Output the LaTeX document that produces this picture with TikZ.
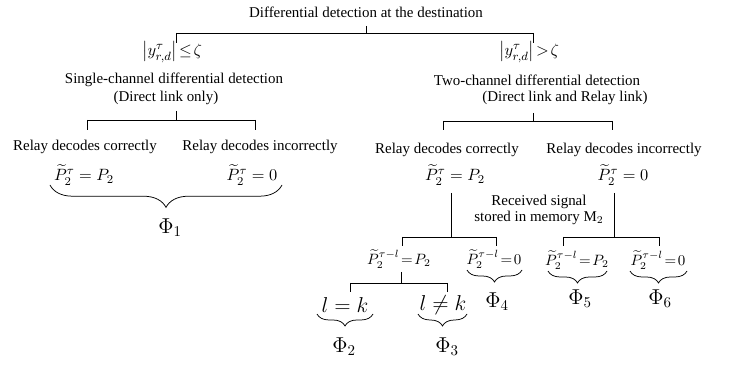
\documentclass[tikz,border=0pt]{standalone}
\usepackage{amsmath, amssymb}
\usepackage{fontspec}
\setmainfont{Liberation Serif}
\usepackage{tikz}
\usetikzlibrary{positioning, decorations.pathreplacing}

\begin{document}
\begin{tikzpicture}[x=0.02352cm, y=-0.02352cm, line width=0.5pt,
          txt/.style={inner sep=1pt, font=\fontsize{10}{11}\selectfont},
          eqn/.style={inner sep=1pt, font=\fontsize{11}{12}\selectfont},
          eqs/.style={inner sep=0.5pt, font=\fontsize{10}{11}\selectfont},
          phi/.style={inner sep=1pt, font=\fontsize{14}{15}\selectfont},
          bigbrace/.style={decorate, decoration={brace, mirror, amplitude=15pt}},
          smallbrace/.style={decorate, decoration={brace, mirror, amplitude=8pt}}
        ]
        \useasboundingbox (0,0) rectangle (733,367);
        \node[txt] (top) at (366,12) {Differential detection at the destination};
        \coordinate (t0) at (366,26);
        \coordinate (tj) at (366,33);
        \coordinate (tl) at (176,33);
        \coordinate (tr) at (533,33);
        \coordinate (tld) at (176,43);
        \coordinate (trd) at (533,43);

        % left branch: single channel
        \node[eqn] (lcond) at (172,52) {$\bigl|y^{\tau}_{r,d}\bigr|\!\leq\!\zeta$};
        \node[txt] (ltit)  at (174,80) {Single-channel differential detection};
        \node[txt] (lsub)  at (166,98) {(Direct link only)};
        \coordinate (ls)  at (176,111);
        \coordinate (lj)  at (176,120);
        \coordinate (ljl) at (87,120);
        \coordinate (ljr) at (255,120);
        \coordinate (ldl) at (87,130);
        \coordinate (ldr) at (255,130);
        \node[txt] (lok)  at (85,147)  {Relay decodes correctly};
        \node[txt] (lbad) at (260,147) {Relay decodes incorrectly};
        \node[eqn] (leq1) at (84,175)  {$\widetilde{P}_2^{\tau}=P_2$};
        \node[eqn] (leq2) at (252,175) {$\widetilde{P}_2^{\tau}=0$};
        \coordinate (lbra) at (50,185);
        \coordinate (lbrb) at (282,185);
        \node[phi] (phi1) at (170,228) {$\Phi_1$};

        \draw (t0) -- (tj);
        \draw (tl) -- (tr);
        \draw (tl) -- (tld);
        \draw (ls) -- (lj);
        \draw (ljl) -- (ljr);
        \draw (ljl) -- (ldl);
        \draw (ljr) -- (ldr);
        \draw[bigbrace] (lbra) -- (lbrb);

        % right branch: two channel
        \node[eqn] (rcond) at (529,52) {$\bigl|y^{\tau}_{r,d}\bigr|\!>\!\zeta$};
        \node[txt] (rtit)  at (537,80) {Two-channel differential detection};
        \node[txt] (rsub)  at (565,98) {(Direct link and Relay link)};
        \coordinate (rs)  at (533,113);
        \coordinate (rj)  at (533,121);
        \coordinate (rjl) at (443,121);
        \coordinate (rjr) at (612,121);
        \coordinate (rdl) at (443,130);
        \coordinate (rdr) at (612,130);
        \node[txt] (rok)  at (447,150) {Relay decodes correctly};
        \node[txt] (rbad) at (624,150) {Relay decodes incorrectly};
        \node[eqn] (req1) at (455,175) {$\widetilde{P}_2^{\tau}=P_2$};
        \node[eqn] (req2) at (623,175) {$\widetilde{P}_2^{\tau}=0$};
        \node[txt, align=center, font=\fontsize{10}{10.7}\selectfont] (mem) at (539,210)
             {Received signal\\stored in memory M$_2$};

        \draw (tr) -- (trd);
        \draw (rs) -- (rj);
        \draw (rjl) -- (rjr);
        \draw (rjl) -- (rdl);
        \draw (rjr) -- (rdr);

        % memory M2, relay correct
        \coordinate (ms)  at (451,193);
        \coordinate (mj)  at (451,237);
        \coordinate (mjl) at (402,237);
        \coordinate (mjr) at (496,237);
        \coordinate (mdl) at (402,246);
        \coordinate (mdr) at (496,246);
        \node[eqs] (a1) at (399,259) {$\widetilde{P}_2^{\tau-l}\!=\!P_2$};
        \node[eqs] (a2) at (494,259) {$\widetilde{P}_2^{\tau-l}\!=\!0$};
        \coordinate (as)  at (401,272);
        \coordinate (aj)  at (401,283);
        \coordinate (ajl) at (350,283);
        \coordinate (ajr) at (447,283);
        \coordinate (adl) at (350,292);
        \coordinate (adr) at (447,292);
        \node[phi] (lk)  at (345,305) {$l=k$};
        \node[phi] (lnk) at (443,305) {$l\neq k$};
        \node[phi] (phi2) at (344,347) {$\Phi_2$};
        \node[phi] (phi3) at (447,347) {$\Phi_3$};
        \node[phi] (phi4) at (497,302) {$\Phi_4$};

        \draw (ms) -- (mj);
        \draw (mjl) -- (mjr);
        \draw (mjl) -- (mdl);
        \draw (mjr) -- (mdr);
        \draw (as) -- (aj);
        \draw (ajl) -- (ajr);
        \draw (ajl) -- (adl);
        \draw (ajr) -- (adr);
        \draw[smallbrace] (317,314) -- (373,314);
        \draw[smallbrace] (418,314) -- (467,314);
        \draw[smallbrace] (467,270) -- (522,270);

        % memory M2, relay incorrect
        \coordinate (ns)  at (614,193);
        \coordinate (nj)  at (614,237);
        \coordinate (njl) at (563,237);
        \coordinate (njr) at (659,237);
        \coordinate (ndl) at (563,246);
        \coordinate (ndr) at (659,246);
        \node[eqs] (b1) at (577,260) {$\widetilde{P}_2^{\tau-l}\!=\!P_2$};
        \node[eqs] (b2) at (658,260) {$\widetilde{P}_2^{\tau-l}\!=\!0$};
        \node[phi] (phi5) at (580,299) {$\Phi_5$};
        \node[phi] (phi6) at (660,299) {$\Phi_6$};

        \draw (ns) -- (nj);
        \draw (njl) -- (njr);
        \draw (njl) -- (ndl);
        \draw (njr) -- (ndr);
        \draw[smallbrace] (548,271) -- (607,271);
        \draw[smallbrace] (630,271) -- (687,271);
      \end{tikzpicture}
\end{document}
